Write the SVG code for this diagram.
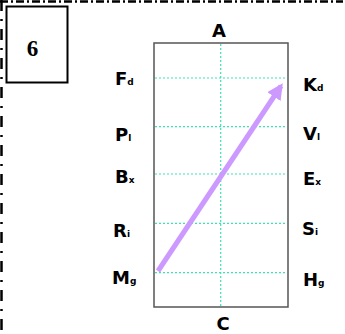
<svg xmlns="http://www.w3.org/2000/svg" width="345" height="334" viewBox="0 0 345 334">
<style>
.lbl{font-family:"DejaVu Sans",Verdana,sans-serif;font-weight:bold;font-size:18px;fill:#000}
.sub{font-size:9px}
.grid{stroke:#3ee0b4;stroke-width:1.2;stroke-dasharray:2 2;fill:none}
</style>
<defs>
<marker id="ah" viewBox="0 0 10 10" refX="8" refY="5" markerWidth="3.2" markerHeight="3.2" orient="auto" markerUnits="strokeWidth">
<path d="M0,0 L10,5 L0,10 z" fill="#cc99ff"/>
</marker>
</defs>
<g id="border">
<line x1="0" y1="1.5" x2="343" y2="1.5" stroke="#000" stroke-width="2.5" stroke-dasharray="8 3 2 3"/>
<line x1="1.5" y1="0" x2="1.5" y2="334" stroke="#000" stroke-width="2.5" stroke-dasharray="11 8 2 8"/>
</g>
<g id="box6">
<rect x="6.5" y="6.5" width="61" height="76" fill="#fff" stroke="#000" stroke-width="2"/>
<text x="32.5" y="55.5" font-family="Liberation Serif,serif" font-weight="bold" font-size="23" text-anchor="middle">6</text>
</g>
<g id="panel">
<rect x="154" y="43" width="134" height="264" fill="#fff" stroke="#555" stroke-width="1.5"/>
<line class="grid" x1="220.7" y1="44" x2="220.7" y2="306"/>
<line class="grid" x1="155" y1="78" x2="287" y2="78"/>
<line class="grid" x1="155" y1="126.7" x2="287" y2="126.7"/>
<line class="grid" x1="155" y1="174" x2="287" y2="174"/>
<line class="grid" x1="155" y1="223.3" x2="287" y2="223.3"/>
<line class="grid" x1="155" y1="272.7" x2="287" y2="272.7"/>
</g>
<g id="connectors">
<line x1="158" y1="271" x2="281" y2="86" stroke="#cc99ff" stroke-width="5" marker-end="url(#ah)"/>
</g>
<g id="labels">
<text class="lbl" x="219" y="37" text-anchor="middle">A</text>
<text class="lbl" x="223" y="330" text-anchor="middle">C</text>
<text class="lbl" x="115" y="85">F<tspan class="sub">d</tspan></text>
<text class="lbl" x="115" y="140.5">P<tspan class="sub">l</tspan></text>
<text class="lbl" x="115" y="183">B<tspan class="sub">x</tspan></text>
<text class="lbl" x="113" y="237">R<tspan class="sub">i</tspan></text>
<text class="lbl" x="112" y="283.5">M<tspan class="sub">g</tspan></text>
<text class="lbl" x="303" y="90.5">K<tspan class="sub">d</tspan></text>
<text class="lbl" x="303" y="140">V<tspan class="sub">l</tspan></text>
<text class="lbl" x="303" y="185">E<tspan class="sub">x</tspan></text>
<text class="lbl" x="302" y="235">S<tspan class="sub">i</tspan></text>
<text class="lbl" x="303" y="286">H<tspan class="sub">g</tspan></text>
</g>
</svg>
